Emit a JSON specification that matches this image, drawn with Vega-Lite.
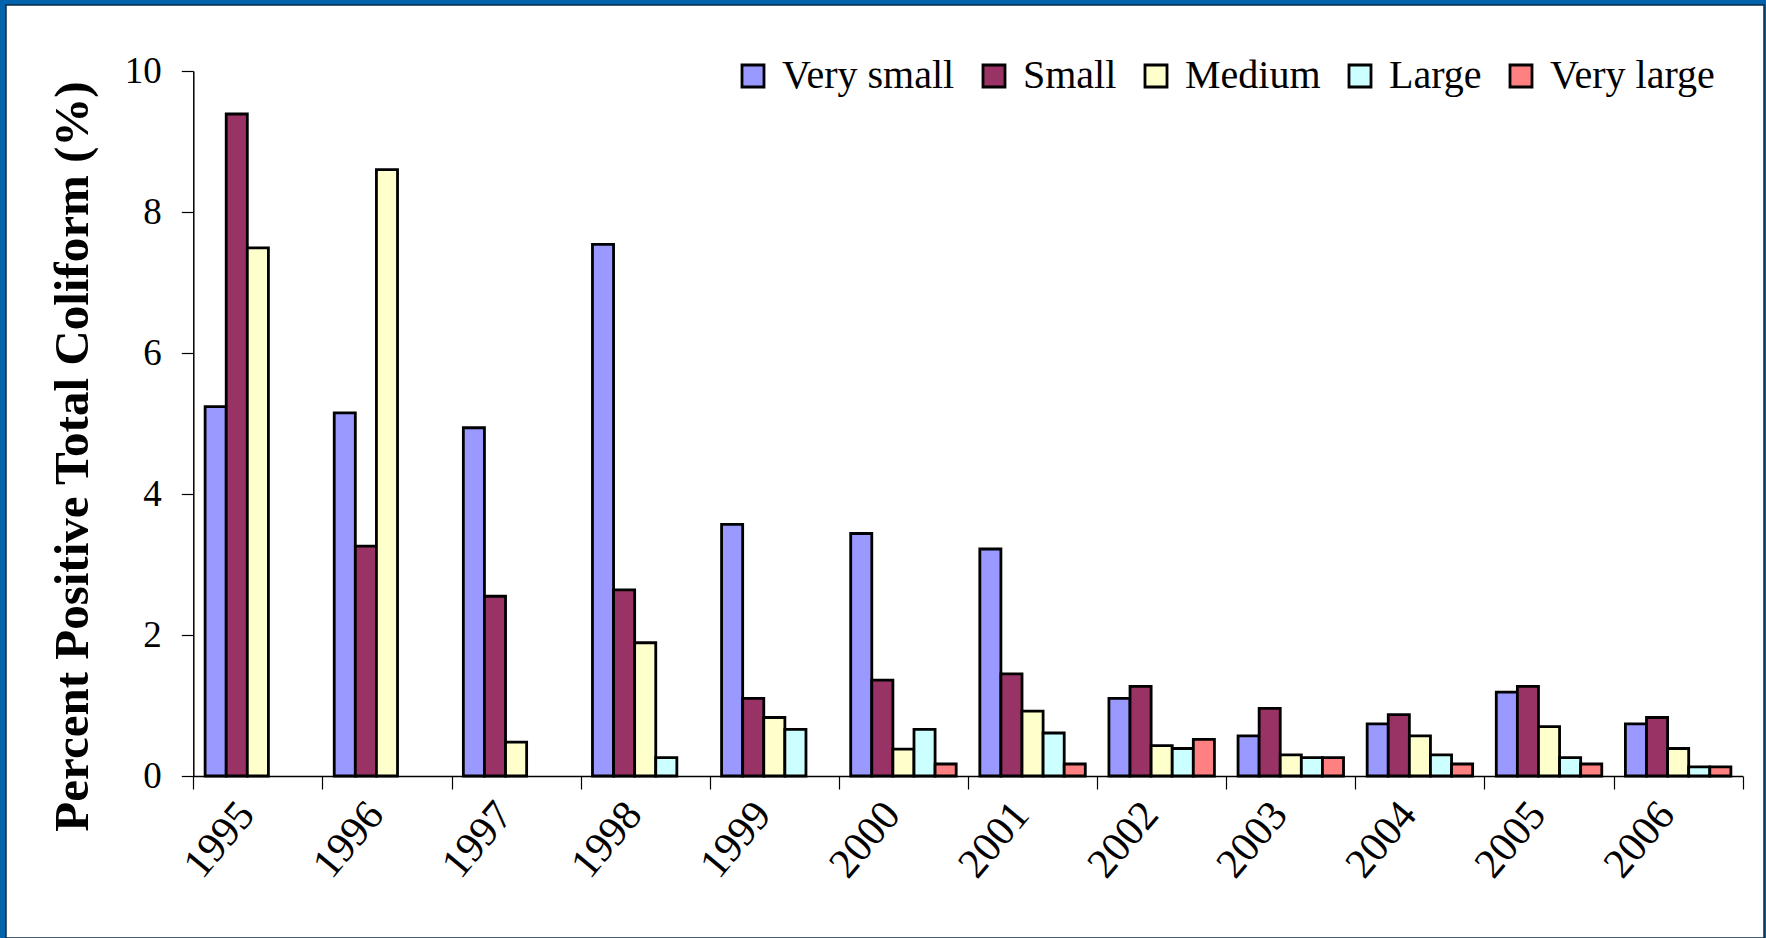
{
  "$schema": "https://vega.github.io/schema/vega-lite/v6.json",
  "autosize": {"type": "none"},
  "width": 1758,
  "height": 933,
  "padding": {"left": 6, "top": 5, "right": 2, "bottom": 0},
  "background": "#0063AB",
  "config": {
    "view": {"fill": "white", "stroke": "#0c2b45", "strokeWidth": 1.5},
    "font": "Liberation Serif"
  },
  "data": {
    "values": [
      {"year": "1995", "size": "Very small", "pct": 5.24},
      {"year": "1995", "size": "Small", "pct": 9.39},
      {"year": "1995", "size": "Medium", "pct": 7.49},
      {"year": "1996", "size": "Very small", "pct": 5.15},
      {"year": "1996", "size": "Small", "pct": 3.26},
      {"year": "1996", "size": "Medium", "pct": 8.6},
      {"year": "1997", "size": "Very small", "pct": 4.94},
      {"year": "1997", "size": "Small", "pct": 2.55},
      {"year": "1997", "size": "Medium", "pct": 0.48},
      {"year": "1998", "size": "Very small", "pct": 7.54},
      {"year": "1998", "size": "Small", "pct": 2.64},
      {"year": "1998", "size": "Medium", "pct": 1.89},
      {"year": "1998", "size": "Large", "pct": 0.26},
      {"year": "1999", "size": "Very small", "pct": 3.57},
      {"year": "1999", "size": "Small", "pct": 1.1},
      {"year": "1999", "size": "Medium", "pct": 0.83},
      {"year": "1999", "size": "Large", "pct": 0.66},
      {"year": "2000", "size": "Very small", "pct": 3.44},
      {"year": "2000", "size": "Small", "pct": 1.36},
      {"year": "2000", "size": "Medium", "pct": 0.38},
      {"year": "2000", "size": "Large", "pct": 0.66},
      {"year": "2000", "size": "Very large", "pct": 0.17},
      {"year": "2001", "size": "Very small", "pct": 3.22},
      {"year": "2001", "size": "Small", "pct": 1.45},
      {"year": "2001", "size": "Medium", "pct": 0.92},
      {"year": "2001", "size": "Large", "pct": 0.61},
      {"year": "2001", "size": "Very large", "pct": 0.17},
      {"year": "2002", "size": "Very small", "pct": 1.1},
      {"year": "2002", "size": "Small", "pct": 1.27},
      {"year": "2002", "size": "Medium", "pct": 0.43},
      {"year": "2002", "size": "Large", "pct": 0.39},
      {"year": "2002", "size": "Very large", "pct": 0.52},
      {"year": "2003", "size": "Very small", "pct": 0.57},
      {"year": "2003", "size": "Small", "pct": 0.96},
      {"year": "2003", "size": "Medium", "pct": 0.3},
      {"year": "2003", "size": "Large", "pct": 0.26},
      {"year": "2003", "size": "Very large", "pct": 0.26},
      {"year": "2004", "size": "Very small", "pct": 0.74},
      {"year": "2004", "size": "Small", "pct": 0.87},
      {"year": "2004", "size": "Medium", "pct": 0.57},
      {"year": "2004", "size": "Large", "pct": 0.3},
      {"year": "2004", "size": "Very large", "pct": 0.17},
      {"year": "2005", "size": "Very small", "pct": 1.19},
      {"year": "2005", "size": "Small", "pct": 1.27},
      {"year": "2005", "size": "Medium", "pct": 0.7},
      {"year": "2005", "size": "Large", "pct": 0.26},
      {"year": "2005", "size": "Very large", "pct": 0.17},
      {"year": "2006", "size": "Very small", "pct": 0.74},
      {"year": "2006", "size": "Small", "pct": 0.83},
      {"year": "2006", "size": "Medium", "pct": 0.39},
      {"year": "2006", "size": "Large", "pct": 0.13},
      {"year": "2006", "size": "Very large", "pct": 0.13}
    ]
  },
  "mark": {"type": "bar", "stroke": "black", "strokeWidth": 2.8},
  "encoding": {
    "x": {
      "field": "year",
      "type": "nominal",
      "scale": {"range": [187.3, 1736.7], "paddingInner": 0, "paddingOuter": 0},
      "axis": {
        "title": null,
        "orient": "bottom",
        "offset": -162,
        "tickBand": "extent",
        "tickSize": 13,
        "tickColor": "black",
        "tickWidth": 1.2,
        "domainColor": "black",
        "domainWidth": 1.5,
        "labelAngle": -50,
        "labelAlign": "right",
        "labelBaseline": "middle",
        "labelFont": "Liberation Serif",
        "labelFontSize": 42,
        "labelColor": "black",
        "labelPadding": 18,
        "labelOffset": -12,
        "grid": false
      }
    },
    "xOffset": {
      "field": "size",
      "type": "nominal",
      "sort": ["Very small", "Small", "Medium", "Large", "Very large"],
      "scale": {"paddingOuter": 0.56, "paddingInner": 0}
    },
    "y": {
      "field": "pct",
      "type": "quantitative",
      "scale": {"domain": [0, 10], "range": [771, 66], "nice": false},
      "axis": {
        "orient": "left",
        "offset": -187.3,
        "values": [0, 2, 4, 6, 8, 10],
        "tickSize": 12,
        "tickColor": "black",
        "tickWidth": 1.2,
        "domainColor": "black",
        "domainWidth": 1.5,
        "labelPadding": 20,
        "labelFont": "Liberation Serif",
        "labelFontSize": 37,
        "labelColor": "black",
        "grid": false,
        "title": "Percent Positive Total Coliform (%)",
        "titleFont": "Liberation Serif",
        "titleFontWeight": "bold",
        "titleFontSize": 49,
        "titleColor": "black",
        "titleAngle": -90,
        "titleAlign": "center",
        "titleBaseline": "middle",
        "titleX": -121,
        "titleY": 451
      }
    },
    "color": {
      "field": "size",
      "type": "nominal",
      "scale": {
        "domain": ["Very small", "Small", "Medium", "Large", "Very large"],
        "range": ["#9999FF", "#993366", "#FFFFCC", "#CCFFFF", "#FF8080"]
      },
      "legend": {
        "orient": "none",
        "legendX": 727,
        "legendY": 51,
        "direction": "horizontal",
        "title": null,
        "padding": 0,
        "symbolType": "square",
        "symbolSize": 484,
        "symbolStrokeColor": "black",
        "symbolStrokeWidth": 2.8,
        "symbolOpacity": 1,
        "labelFont": "Liberation Serif",
        "labelFontSize": 40,
        "labelColor": "black",
        "labelOffset": 9,
        "labelLimit": 400,
        "columnPadding": 19
      }
    }
  }
}
